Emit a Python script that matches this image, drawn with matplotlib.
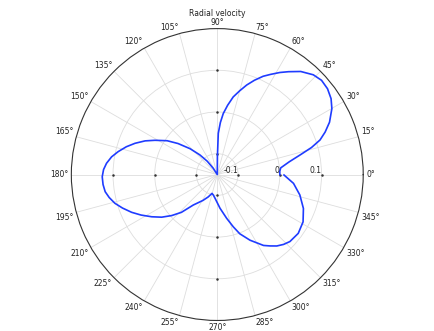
import numpy as np
import matplotlib
matplotlib.use("Agg")
import matplotlib.pyplot as plt

plt.rcParams.update({'font.size': 5.5, 'font.family': 'DejaVu Sans'})

# curve: angle [deg], radial velocity
theta_deg = [0, 3, 6, 10, 13.3, 16, 18.6, 21.5, 25, 29.9, 33.7, 37.9, 42.1,
             46.1, 51, 55.3, 58.5, 62, 65, 68.5, 71.8, 75, 78.4, 81.5, 84.4,
             86.6, 88.6, 89.6, 90, 100, 110, 120, 123, 127, 131.6, 136.5,
             141.7, 146, 151.2, 155, 159.2, 163, 167, 170.5, 174.2, 177.5,
             181.1, 185, 188.7, 192, 195.7, 199.5, 203.8, 208, 212.8, 217.5,
             222, 226.5, 231.8, 241, 247.9, 254.3, 259, 264.5, 274.6, 282, 287,
             290.8, 296.5, 303.1, 306.5, 309.8, 313.5, 317.3, 324, 331.1,
             338.5, 346.1, 353.4, 359.6]
r_vals = [0.000, 0.000, 0.003, 0.025, 0.054, 0.085, 0.110, 0.128, 0.147,
          0.167, 0.178, 0.185, 0.187, 0.182, 0.168, 0.150, 0.137, 0.122,
          0.110, 0.093, 0.076, 0.058, 0.040, 0.018, -0.003, -0.025, -0.051,
          -0.107, -0.150, -0.150, -0.150, -0.150, -0.132, -0.110, -0.087,
          -0.060, -0.030, -0.005, 0.0205, 0.041, 0.061, 0.078, 0.094, 0.107,
          0.117, 0.123, 0.126, 0.125, 0.122, 0.115, 0.105, 0.091, 0.0745,
          0.057, 0.037, 0.018, -0.003, -0.025, -0.057, -0.079, -0.092, -0.103,
          -0.100, -0.093, -0.069, -0.043, -0.019, 0.002, 0.026, 0.053, 0.063,
          0.073, 0.081, 0.087, 0.090, 0.085, 0.072, 0.054, 0.034, 0.010]

r_min, r_max = -0.15, 0.2
r_ticks = [-0.1, 0, 0.1]
r_tick_labels = ['-0.1', '0', '0.1']
theta_ticks = list(range(0, 360, 15))
axis_angles = [0, 90, 180, 270]

fig = plt.figure(figsize=(4.35, 3.31), dpi=100)
ax = fig.add_axes([0.164, 0.0317, 0.671, 0.882], projection='polar')

ax.plot(np.radians(theta_deg), r_vals, color='#1f3cff', lw=1.2, zorder=3)

ax.set_rlim(r_min, r_max)
ax.set_rticks(r_ticks)
ax.set_yticklabels([])
ax.set_xticks(np.radians(theta_ticks))
ax.set_xticklabels([])
ax.tick_params(axis='both', length=0)
ax.grid(True, color='#dddddd', lw=0.6)
ax.spines['polar'].set_color('#333333')
ax.spines['polar'].set_linewidth(0.8)

# angle labels sit just outside the rim, anchored at the corner nearest to it
for t in theta_ticks:
    c, s = np.cos(np.radians(t)), np.sin(np.radians(t))
    ha = 'left' if c > 0.1 else ('right' if c < -0.1 else 'center')
    va = 'bottom' if s > 0.1 else ('top' if s < -0.1 else 'center')
    ax.annotate(f'{t}°', xy=(np.radians(t), r_max), xytext=(2 * c, 1.5 * s),
                textcoords='offset points', ha=ha, va=va, fontsize=5.5,
                color='#222222', annotation_clip=False)

# small tick marks on the four main axes
for a in axis_angles:
    ax.plot([np.radians(a)] * len(r_ticks), r_ticks, ls='none', marker='o',
            ms=0.8, color='#333333', zorder=2)

for rt, lab in zip(r_ticks, r_tick_labels):
    ax.text(0, rt, lab, ha='right', va='bottom', fontsize=5.5, color='#222222')

fig.text(0.4995, 1 - 14 / 331, 'Radial velocity', ha='center', va='center',
         fontsize=5.5, color='#222222')

fig.savefig('out.png', dpi=100)
